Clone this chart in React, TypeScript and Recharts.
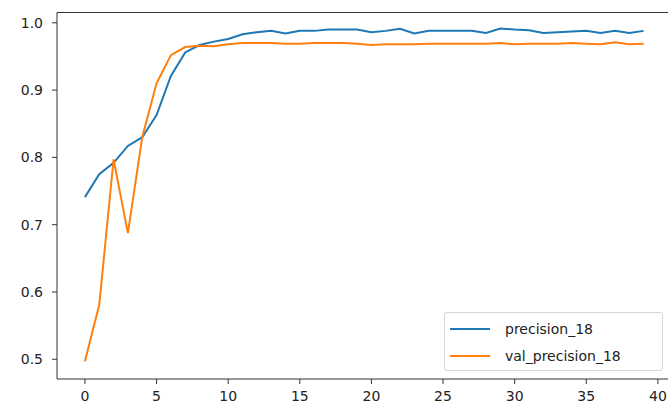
import { LineChart, Line, XAxis, YAxis, ReferenceLine } from "recharts";

const epochs = Array.from({ length: 40 }, (_, i) => i);

const precision = [
  0.741, 0.775, 0.792, 0.817, 0.83, 0.863, 0.921, 0.956, 0.967, 0.972,
  0.976, 0.983, 0.986, 0.988, 0.984, 0.988, 0.988, 0.99, 0.99, 0.99,
  0.986, 0.988, 0.991, 0.984, 0.988, 0.988, 0.988, 0.988, 0.985, 0.9915,
  0.99, 0.989, 0.985, 0.986, 0.987, 0.988, 0.985, 0.988, 0.985, 0.988,
];

const valPrecision = [
  0.497, 0.581, 0.797, 0.6875, 0.83, 0.91, 0.952, 0.964, 0.966, 0.965,
  0.968, 0.97, 0.97, 0.97, 0.969, 0.969, 0.97, 0.97, 0.97, 0.969,
  0.967, 0.968, 0.968, 0.968, 0.969, 0.969, 0.969, 0.969, 0.969, 0.97,
  0.968, 0.969, 0.969, 0.969, 0.97, 0.969, 0.968, 0.971, 0.968, 0.969,
];

const xTicks = [0, 5, 10, 15, 20, 25, 30, 35, 40];
const yTicks = [0.5, 0.6, 0.7, 0.8, 0.9, 1.0];

const seriesNames = ["precision_18", "val_precision_18"];
const seriesColors = ["#1f77b4", "#ff7f0e"];

const data = epochs.map((e, i) => ({
  epoch: e,
  precision: precision[i],
  val: valPrecision[i],
}));

const X_DOMAIN: [number, number] = [-1.95, 40.95];
const Y_DOMAIN: [number, number] = [0.4707, 1.0153];

const tickStyle = { fontFamily: "DejaVu Sans", fontSize: 14, fill: "#222" };

// matplotlib-style legend box, lower right
function LegendBox() {
  return (
    <div
      style={{
        position: "absolute",
        left: 444,
        top: 312,
        border: "1px solid #d6d6d6",
        borderRadius: 3,
        background: "rgba(255,255,255,0.8)",
        width: 219,
        height: 59,
        boxSizing: "border-box",
        paddingTop: 2,
        fontFamily: "DejaVu Sans",
        fontSize: 14,
        color: "#222",
      }}
    >
      {seriesNames.map((name, i) => (
        <div key={name} style={{ display: "flex", alignItems: "center", height: 27 }}>
          <div style={{ width: 40, height: 2, background: seriesColors[i], marginLeft: 5, marginRight: 15 }} />
          <span>{name}</span>
        </div>
      ))}
    </div>
  );
}

export default function App() {
  return (
    <div style={{ position: "absolute", left: 0, top: 0, width: 668, height: 407, overflow: "hidden", background: "white" }}>
      <LineChart width={680} height={407} data={data} margin={{ top: 12.5, right: 8.5, bottom: 0, left: 0 }}>
        <XAxis
          dataKey="epoch"
          type="number"
          domain={X_DOMAIN}
          ticks={xTicks}
          allowDataOverflow
          height={28}
          tick={tickStyle}
          tickSize={5}
          tickMargin={7}
          stroke="#333"
          tickLine={{ stroke: "#333" }}
          axisLine={{ stroke: "#333" }}
        />
        <YAxis
          type="number"
          domain={Y_DOMAIN}
          ticks={yTicks}
          allowDataOverflow
          width={57}
          tick={tickStyle}
          tickSize={5}
          tickMargin={9}
          tickFormatter={(v: number) => v.toFixed(1)}
          stroke="#333"
          tickLine={{ stroke: "#333" }}
          axisLine={{ stroke: "#333" }}
        />
        <ReferenceLine y={Y_DOMAIN[1]} stroke="#333" />
        <ReferenceLine x={X_DOMAIN[1]} stroke="#333" />
        <Line
          dataKey="precision"
          stroke={seriesColors[0]}
          strokeWidth={2}
          dot={false}
          isAnimationActive={false}
        />
        <Line
          dataKey="val"
          stroke={seriesColors[1]}
          strokeWidth={2}
          dot={false}
          isAnimationActive={false}
        />
      </LineChart>
      <LegendBox />
    </div>
  );
}
